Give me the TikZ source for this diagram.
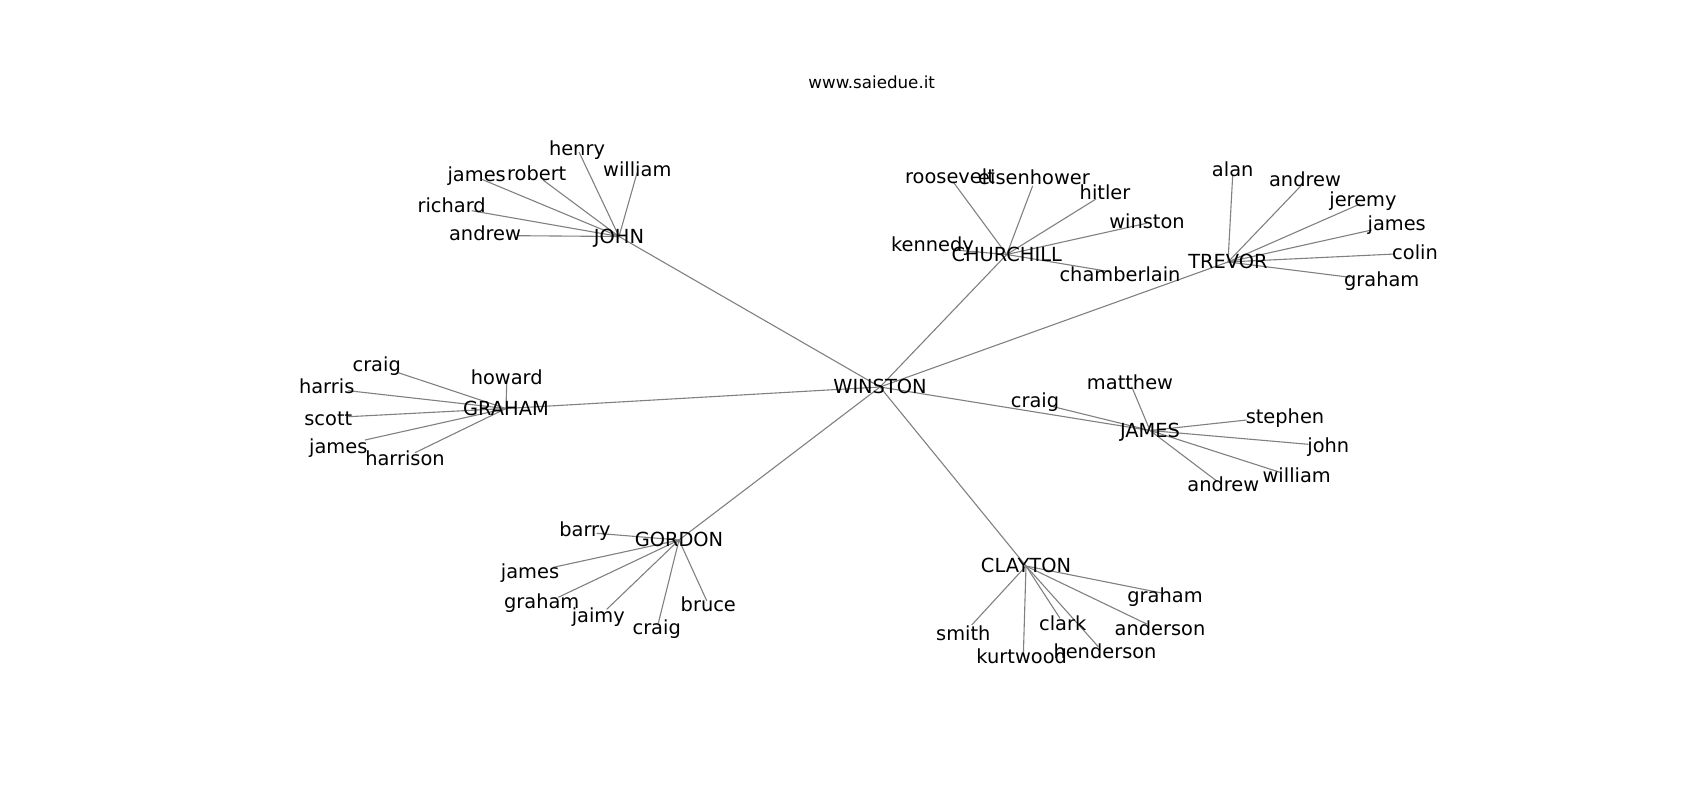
\documentclass[tikz,border=0pt]{standalone}
\usepackage{fontspec}
\setmainfont{DejaVu Sans}
\usetikzlibrary{backgrounds}
\begin{document}
\begin{tikzpicture}[x=1pt,y=-1pt,line cap=round,
    lbl/.style={inner sep=0pt,text height=13.4pt,text depth=0pt,font=\fontsize{19.4}{23}\selectfont},
    edge/.style={draw=black!50,line width=1.1pt}]
  \useasboundingbox (0,0) rectangle (1700,800);
  \node[font=\fontsize{16.7}{20}\selectfont] (title) at (871.7,82.3) {www.saiedue.it};
  % hubs
  \node[lbl] (WINSTON) at (880,387) {WINSTON};
  \node[lbl] (JOHN) at (619,236.5) {JOHN};
  \node[lbl] (CHURCHILL) at (1006.7,254.5) {CHURCHILL};
  \node[lbl] (TREVOR) at (1228,262) {TREVOR};
  \node[lbl] (GRAHAM) at (506,408.5) {GRAHAM};
  \node[lbl] (JAMES) at (1150,430.5) {JAMES};
  \node[lbl] (GORDON) at (679,540) {GORDON};
  \node[lbl] (CLAYTON) at (1026,566) {CLAYTON};
  \begin{scope}[on background layer]
    \foreach \h in {JOHN,CHURCHILL,TREVOR,GRAHAM,JAMES,GORDON,CLAYTON}
      \draw[edge] (WINSTON.center) -- (\h.center);
  \end{scope}
  % leaves: hub/name/text/label x/label y/end x/end y
  \foreach \hub/\n/\t/\lx/\ly/\ex/\ey in {
      JOHN/jo1/henry/577/149/579/152, JOHN/jo2/william/637.3/169.3/637/173,
      JOHN/jo3/james/476.7/175/481.7/179.3, JOHN/jo4/robert/536.7/173.3/543/180,
      JOHN/jo5/richard/451.7/206/471.7/210.7, JOHN/jo6/andrew/485/233.3/518/235.7,
      CHURCHILL/ch1/roosevelt/950/176.7/953/181.7, CHURCHILL/ch2/eisenhower/1034/178/1032.7/185.7,
      CHURCHILL/ch3/hitler/1105/193/1096/199, CHURCHILL/ch4/winston/1147/221.7/1146.7/223.3,
      CHURCHILL/ch5/kennedy/932.5/244.3/955/250, CHURCHILL/ch6/chamberlain/1120/275/1110/271.7,
      TREVOR/tr1/alan/1232.7/170/1232.7/175, TREVOR/tr2/andrew/1305/180/1301.7/185,
      TREVOR/tr3/jeremy/1363/200/1360/204, TREVOR/tr4/james/1396.7/224/1371.7/230,
      TREVOR/tr5/colin/1415/252.3/1395/254, TREVOR/tr6/graham/1381.7/280/1350/277.3,
      GRAHAM/gr1/craig/376.7/365/398.3/372.7, GRAHAM/gr2/harris/326.7/386.7/348.3/390.7,
      GRAHAM/gr3/scott/328.3/418.3/348.3/416.7, GRAHAM/gr4/james/338.3/446.7/365/440,
      GRAHAM/gr5/harrison/405/458.3/415/452.7, GRAHAM/gr6/howard/506.7/377.3/506.7/383.3,
      JAMES/ja1/craig/1035/400.7/1053.3/406.7, JAMES/ja2/matthew/1130/382.7/1131.7/386.7,
      JAMES/ja3/stephen/1285/416.7/1246.7/420, JAMES/ja4/john/1328.3/445.7/1308.3/444.3,
      JAMES/ja5/william/1296.7/475.7/1280/472.3, JAMES/ja6/andrew/1223.3/485/1216.7/481,
      GORDON/go1/barry/585/530/596.7/533.3, GORDON/go2/james/530/571.7/553.3/567.3,
      GORDON/go3/graham/541.7/601.7/558.3/597.3, GORDON/go4/jaimy/598.3/616/606.7/609.3,
      GORDON/go5/craig/656.7/627.3/658.3/623.3, GORDON/go6/bruce/708.3/605/706.7/600.7,
      CLAYTON/cl1/graham/1165/596/1163.3/593.3, CLAYTON/cl2/anderson/1160/628.3/1146.7/624,
      CLAYTON/cl3/smith/963.3/633.3/971.7/625, CLAYTON/cl4/kurtwood/1021.7/656.7/1023.3/656.7,
      CLAYTON/cl5/clark/1062.7/624/1060/618.3, CLAYTON/cl6/henderson/1105/651.7/1098.3/646.7}{
    \coordinate (\n) at (\ex,\ey);
    \node[lbl] (\n-txt) at (\lx,\ly) {\t};
    \begin{scope}[on background layer]
      \draw[edge] (\hub.center) -- (\n);
    \end{scope}
  }
\end{tikzpicture}
\end{document}
